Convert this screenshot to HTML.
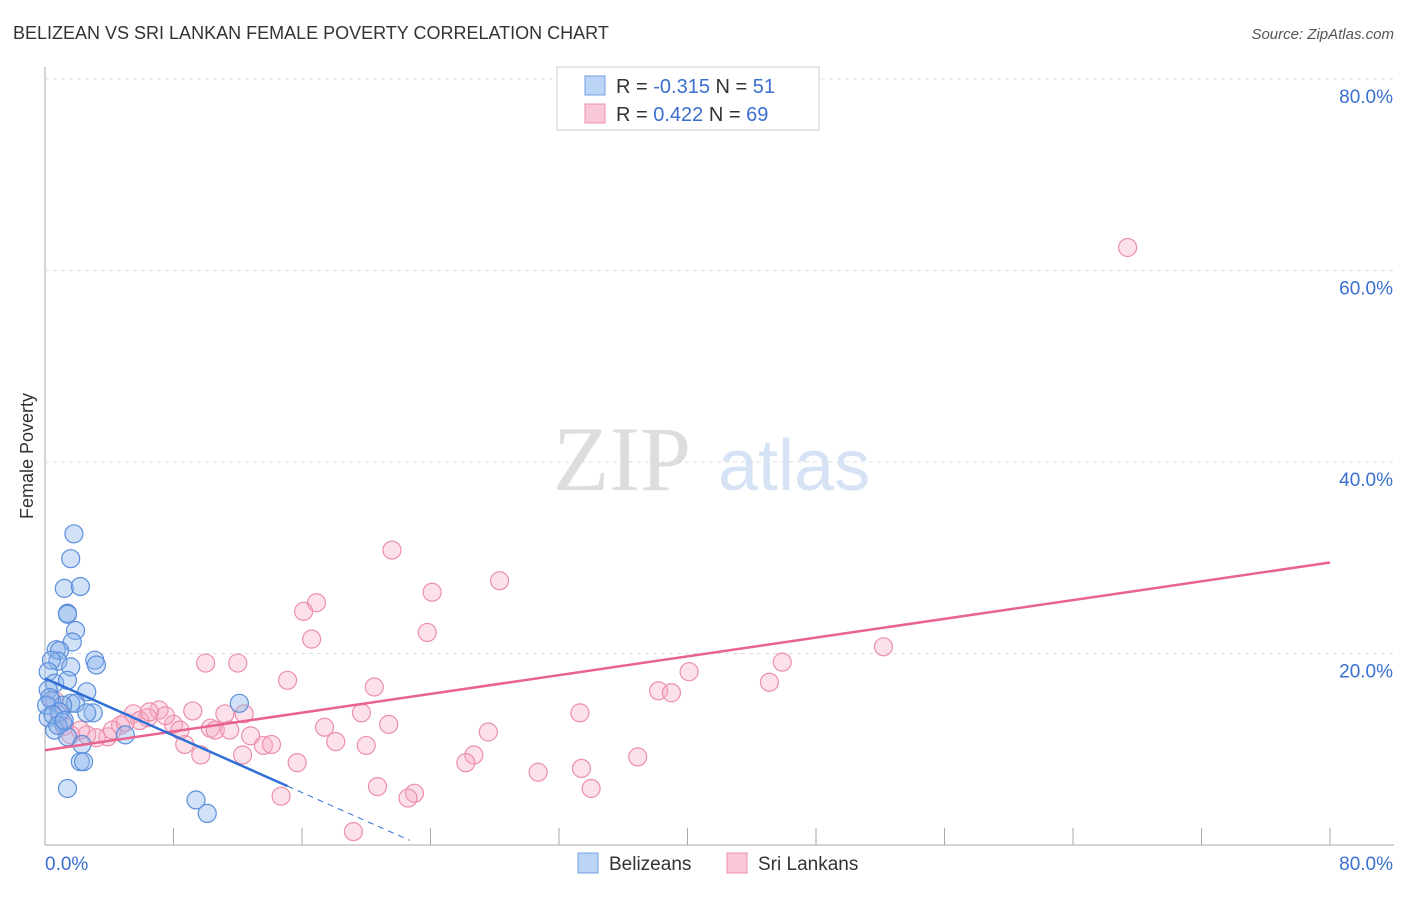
<!DOCTYPE html>
<html><head><meta charset="utf-8"><style>
body{margin:0;background:#fff;font-family:"Liberation Sans",sans-serif}
</style></head><body>
<svg width="1406" height="892" xmlns="http://www.w3.org/2000/svg" id="c" font-family="Liberation Sans, sans-serif">
<text x="13" y="39" font-size="18" fill="#333">BELIZEAN VS SRI LANKAN FEMALE POVERTY CORRELATION CHART</text>
<text x="1394" y="39" font-size="15" fill="#555" text-anchor="end" font-style="italic">Source: ZipAtlas.com</text>
<text transform="translate(33,456) rotate(-90)" font-size="18" fill="#333" text-anchor="middle">Female Poverty</text>
<text x="553" y="490" font-size="92" fill="#ddd" font-family="Liberation Serif, serif">ZIP</text>
<text x="718" y="490" font-size="72" fill="#d6e3f5">atlas</text>
<g id="grid"></g><g id="pts"></g><g id="trend"></g>
<g>
<rect x="557" y="67" width="262" height="63" fill="#fff" stroke="#ccc"/>
<rect x="585" y="76" width="20" height="19" fill="#bcd4f5" stroke="#6f9fe0"/>
<rect x="585" y="104" width="20" height="19" fill="#f9c8d6" stroke="#ec8fac"/>
<text x="616" y="93" font-size="20" fill="#333">R = <tspan fill="#3a6fd0">-0.315</tspan>   N = <tspan fill="#3a6fd0">51</tspan></text>
<text x="616" y="121" font-size="20" fill="#333">R =  <tspan fill="#3a6fd0">0.422</tspan>   N = <tspan fill="#3a6fd0">69</tspan></text>
</g>
<g>
<rect x="578" y="853" width="20" height="20" fill="#bcd4f5" stroke="#6f9fe0"/>
<text x="609" y="870" font-size="19" fill="#333">Belizeans</text>
<rect x="727" y="853" width="20" height="20" fill="#f9c8d6" stroke="#ec8fac"/>
<text x="758" y="870" font-size="19" fill="#333">Sri Lankans</text>
</g>
</svg>
<script>
const blueX=[1.8,1.6,1.2,2.2,1.4,1.4,1.9,1.7,0.7,0.9,0.8,3.1,3.2,1.6,0.4,0.2,0.6,1.4,0.2,2.6,0.4,1.6,1.9,1.1,3.0,2.6,0.2,1.1,0.6,1.4,2.3,5.0,2.2,2.4,1.4,9.4,10.1,12.1,0.3,0.1,0.9,0.5,0.8,1.2];
const blueY=[32.5,29.9,26.8,27.0,24.2,24.1,22.4,21.2,20.4,20.3,19.2,19.3,18.8,18.6,19.3,18.1,16.9,17.2,16.2,16.0,15.1,14.8,14.8,14.6,13.8,13.8,13.3,12.8,12.0,11.3,10.5,11.5,8.7,8.7,5.9,4.7,3.3,14.8,15.4,14.6,13.9,13.6,12.5,13.0];
const pinkX=[67.4,21.6,28.3,24.1,16.9,16.1,23.8,16.6,52.2,45.9,10.0,12.0,40.1,15.1,20.5,38.2,39.0,45.1,9.2,7.1,5.5,6.4,8.0,4.7,3.9,3.2,2.6,4.2,5.9,5.0,7.5,10.3,10.6,11.2,11.5,12.8,13.6,14.1,9.7,8.7,12.3,17.4,18.1,19.7,20.0,21.4,27.6,33.3,26.7,26.2,15.7,30.7,33.4,36.9,20.7,23.0,22.6,14.7,34.0,19.2,12.4,0.9,1.2,1.6,2.2,0.6,6.5,8.4];
const pinkY=[62.4,30.8,27.6,26.4,25.3,24.4,22.2,21.5,20.7,19.1,19.0,19.0,18.1,17.2,16.5,16.1,15.9,17.0,14.0,14.1,13.7,13.3,12.6,12.5,11.3,11.2,11.5,12.0,13.0,12.8,13.5,12.2,12.0,13.7,12.0,11.4,10.4,10.5,9.4,10.5,9.4,12.3,10.8,13.8,10.4,12.6,11.8,13.8,9.4,8.6,8.6,7.6,8.0,9.2,6.1,5.4,4.9,5.1,5.9,1.4,13.7,13.6,12.4,11.5,12.0,15.1,13.9,12.0];
const yTicks=[20,40,60,80];
const yTickLabels=["20.0%","40.0%","60.0%","80.0%"];
const blueTrend=[17.4,-0.745], pinkTrend=[9.9,0.245];
const NS="http://www.w3.org/2000/svg";
const X=v=>45+v*(1285/80), Y=v=>845-v*(766/80);
function mk(t,a,p){const e=document.createElementNS(NS,t);for(const k in a)e.setAttribute(k,a[k]);document.getElementById(p).appendChild(e);return e;}
let e=mk('line',{x1:45,y1:67,x2:45,y2:845,stroke:'#aaa'},'grid');


e=mk('line',{x1:45,y1:845,x2:1394,y2:845,stroke:'#aaa'},'grid');


for(let i=0;i<=10;i++){e=mk('line',{x1:X(i*8),y1:828,x2:X(i*8),y2:845,stroke:'#aaa'},'grid');

}
yTicks.forEach((t,i)=>{e=mk('line',{x1:45,y1:Y(t),x2:1394,y2:Y(t),stroke:'#ddd','stroke-dasharray':'4,4'},'grid');


e=mk('text',{x:1393,y:Y(t)+24,'font-size':19,fill:'#3a6fd0','text-anchor':'end'},'grid');e.textContent=yTickLabels[i];

});
e=mk('text',{x:45,y:870,'font-size':19,fill:'#3a6fd0'},'grid');e.textContent='0.0%';


e=mk('text',{x:1393,y:870,'font-size':19,fill:'#3a6fd0','text-anchor':'end'},'grid');e.textContent='80.0%';


pinkX.forEach((x,i)=>{e=mk('circle',{cx:X(x),cy:Y(pinkY[i]),r:9,fill:'rgba(246,170,194,0.35)',stroke:'#ec8fac','stroke-width':1.2},'pts');

});
blueX.forEach((x,i)=>{e=mk('circle',{cx:X(x),cy:Y(blueY[i]),r:9,fill:'rgba(140,180,235,0.4)',stroke:'#5b8fdc','stroke-width':1.2},'pts');

});
e=mk('line',{x1:X(0),y1:Y(pinkTrend[0]),x2:X(80),y2:Y(pinkTrend[0]+80*pinkTrend[1]),stroke:'#e8638e','stroke-width':2.5},'trend');


e=mk('line',{x1:X(0),y1:Y(blueTrend[0]),x2:X(15.1),y2:Y(blueTrend[0]+15.1*blueTrend[1]),stroke:'#2f6fd6','stroke-width':2.5},'trend');


e=mk('line',{x1:X(15.1),y1:Y(blueTrend[0]+15.1*blueTrend[1]),x2:X(22.7),y2:Y(blueTrend[0]+22.7*blueTrend[1]),stroke:'#2f6fd6','stroke-width':1,'stroke-dasharray':'6,5'},'trend');


</script>
</body></html>
